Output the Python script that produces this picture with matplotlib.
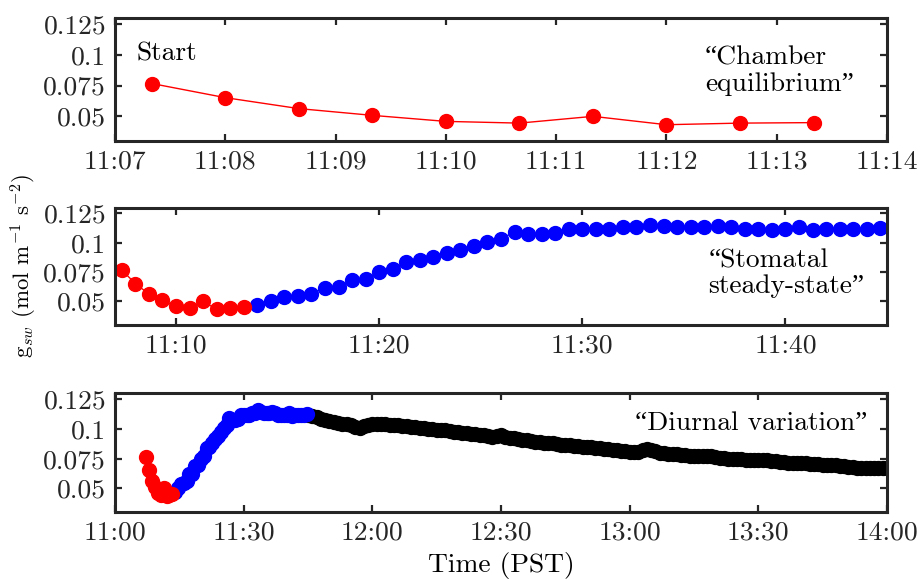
import numpy as np
import pandas as pd
import matplotlib
matplotlib.use('Agg')
import matplotlib.pyplot as plt

plt.rcParams['font.family'] = ['cmr10', 'Liberation Serif']
plt.rcParams['mathtext.fontset'] = 'cm'
plt.rcParams['axes.formatter.use_mathtext'] = True

# sampling clocks (40 s for the first hour, 1 min after)
red_start, red_n = '2019-07-01 11:07:20', 10
blue_start, blue_n = '2019-07-01 11:14:00', 47
black_start, black_n = '2019-07-01 11:45:00', 136

# gsw readings (mol m-1 s-2)
red_gsw = [0.0767, 0.0652, 0.0563, 0.0508, 0.0459, 0.0445, 0.0500, 0.0432, 0.0445, 0.0449]

blue_gsw = [0.0473, 0.0505, 0.0536, 0.0547, 0.0563, 0.0618, 0.0624, 0.0684, 0.0693, 0.0748,
            0.0775, 0.0836, 0.0849, 0.0882, 0.0913, 0.0940, 0.0973, 0.1009, 0.1036, 0.1091,
            0.1075, 0.1075, 0.1086, 0.1119, 0.1119, 0.1119, 0.1119, 0.1133, 0.1138, 0.1155,
            0.1146, 0.1138, 0.1138, 0.1133, 0.1146, 0.1133, 0.1119, 0.1119, 0.1113, 0.1119,
            0.1138, 0.1105, 0.1119, 0.1119, 0.1119, 0.1119, 0.1124]

black_gsw = [0.1120, 0.1110, 0.1100, 0.1085, 0.1075, 0.1065, 0.1055, 0.1050, 0.1045, 0.1040,
             0.1030, 0.1020, 0.1010, 0.1025, 0.1035, 0.1040, 0.1040, 0.1038, 0.1040, 0.1035,
             0.1030, 0.1030, 0.1025, 0.1022, 0.1018, 0.1015, 0.1010, 0.1008, 0.1003, 0.0998,
             0.0995, 0.0990, 0.0992, 0.0985, 0.0978, 0.0972, 0.0968, 0.0962, 0.0958, 0.0955,
             0.0950, 0.0948, 0.0942, 0.0935, 0.0940, 0.0950, 0.0935, 0.0925, 0.0920, 0.0915,
             0.0910, 0.0905, 0.0898, 0.0892, 0.0888, 0.0885, 0.0882, 0.0878, 0.0873, 0.0868,
             0.0865, 0.0862, 0.0858, 0.0855, 0.0852, 0.0848, 0.0845, 0.0842, 0.0838, 0.0834,
             0.0830, 0.0826, 0.0822, 0.0818, 0.0812, 0.0808, 0.0806, 0.0810, 0.0822, 0.0832,
             0.0825, 0.0812, 0.0800, 0.0795, 0.0792, 0.0790, 0.0787, 0.0784, 0.0780, 0.0776,
             0.0772, 0.0768, 0.0770, 0.0776, 0.0774, 0.0765, 0.0758, 0.0752, 0.0748, 0.0746,
             0.0745, 0.0744, 0.0742, 0.0741, 0.0740, 0.0739, 0.0738, 0.0735, 0.0730, 0.0726,
             0.0722, 0.0720, 0.0717, 0.0714, 0.0712, 0.0710, 0.0712, 0.0708, 0.0705, 0.0703,
             0.0700, 0.0698, 0.0697, 0.0695, 0.0690, 0.0685, 0.0682, 0.0678, 0.0675, 0.0672,
             0.0670, 0.0672, 0.0674, 0.0673, 0.0671, 0.0672]

y_ticks = [0.05, 0.075, 0.1, 0.125]
y_ticklabels = ['0.05', '0.075', '0.1', '0.125']

top_ticks = ['11:07', '11:08', '11:09', '11:10', '11:11', '11:12', '11:13', '11:14']
mid_ticks = ['11:10', '11:20', '11:30', '11:40']
mid_lim = ['11:07', '11:45']
bot_ticks = ['11:00', '11:30', '12:00', '12:30', '13:00', '13:30', '14:00']

day = '2019-07-01 '
red_t = pd.date_range(red_start, periods=red_n, freq='40s')
blue_t = pd.date_range(blue_start, periods=blue_n, freq='40s')
black_t = pd.date_range(black_start, periods=black_n, freq='60s')


def to_t(lst):
    return [pd.Timestamp(day + s) for s in lst]


fig = plt.figure(figsize=(9.24, 5.8), dpi=100)
ax1 = fig.add_axes([0.1245, 0.757, 0.8355, 0.212])
ax2 = fig.add_axes([0.1245, 0.440, 0.8355, 0.202])
ax3 = fig.add_axes([0.1245, 0.117, 0.8355, 0.205])

ms = 10
fs = 19.8
frame_col = '#262626'

# top panel
ax1.plot(red_t, red_gsw, '-o', color='red', lw=1, ms=ms)
ax1.set_xticks(to_t(top_ticks))
ax1.set_xticklabels(top_ticks)
ax1.set_xlim(to_t(top_ticks)[0], to_t(top_ticks)[-1])
ax1.text(0.028, 0.71, 'Start', transform=ax1.transAxes, fontsize=fs, ha='left', va='center')
ax1.text(0.957, 0.57, '\u201cChamber\nequilibrium\u201d', transform=ax1.transAxes, fontsize=fs,
         ha='right', va='center', multialignment='left', linespacing=1.1)

# middle panel
ax2.plot(blue_t, blue_gsw, '-o', color='blue', lw=1, ms=ms)
ax2.plot(red_t, red_gsw, '-o', color='red', lw=1, ms=ms)
ax2.set_xticks(to_t(mid_ticks))
ax2.set_xticklabels(mid_ticks)
ax2.set_xlim(to_t(mid_lim)[0], to_t(mid_lim)[1])
ax2.text(0.971, 0.44, '\u201cStomatal\nsteady-state\u201d', transform=ax2.transAxes, fontsize=fs,
         ha='right', va='center', multialignment='left', linespacing=1.1)
ax2.set_ylabel(r'g$_{sw}$ (mol m$^{-1}$ s$^{-2}$)', fontsize=16.5)
ax2.yaxis.set_label_coords(-0.098, 0.5)

# bottom panel
ax3.plot(black_t, black_gsw, '-o', color='black', lw=1, ms=ms)
ax3.plot(blue_t, blue_gsw, '-o', color='blue', lw=1, ms=ms)
ax3.plot(red_t, red_gsw, '-o', color='red', lw=1, ms=ms)
ax3.set_xticks(to_t(bot_ticks))
ax3.set_xticklabels(bot_ticks)
ax3.set_xlim(to_t(bot_ticks)[0], to_t(bot_ticks)[-1])
ax3.text(0.975, 0.75, '\u201cDiurnal variation\u201d', transform=ax3.transAxes, fontsize=fs,
         ha='right', va='center')
ax3.set_xlabel('Time (PST)', fontsize=fs, labelpad=5)

for ax in [ax1, ax2, ax3]:
    ax.set_ylim(0.03, 0.13)
    ax.set_yticks(y_ticks)
    ax.set_yticklabels(y_ticklabels)
    ax.tick_params(direction='in', length=5, width=1.6, color=frame_col, labelsize=fs,
                   top=True, right=True, pad=6.5, labelcolor='#262626')
    for sp in ax.spines.values():
        sp.set_linewidth(2.2)
        sp.set_color(frame_col)

fig.savefig('out.png', dpi=100)
